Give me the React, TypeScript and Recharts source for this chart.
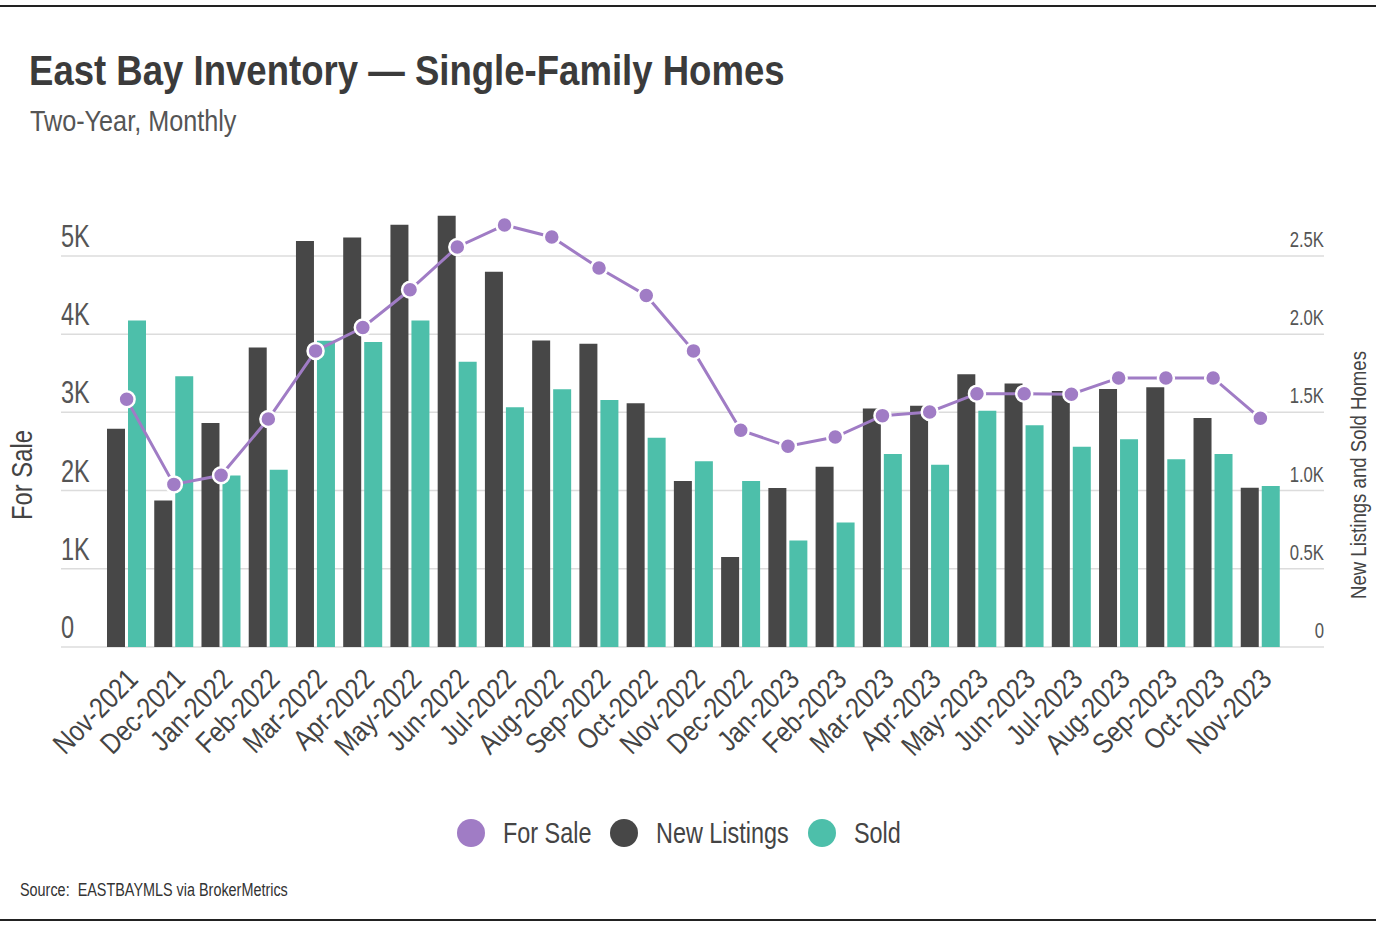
import { ComposedChart, Bar, Line, XAxis, YAxis, CartesianGrid, Legend } from 'recharts';

const months = [
  'Nov-2021', 'Dec-2021', 'Jan-2022', 'Feb-2022', 'Mar-2022', 'Apr-2022', 'May-2022', 'Jun-2022',
  'Jul-2022', 'Aug-2022', 'Sep-2022', 'Oct-2022', 'Nov-2022', 'Dec-2022', 'Jan-2023', 'Feb-2023',
  'Mar-2023', 'Apr-2023', 'May-2023', 'Jun-2023', 'Jul-2023', 'Aug-2023', 'Sep-2023', 'Oct-2023',
  'Nov-2023',
];

const forSale = [
  3168, 2079, 2195, 2915, 3786, 4085, 4567, 5114, 5395, 5242, 4845, 4494, 3786,
  2771, 2566, 2685, 2958, 3005, 3239, 3239, 3232, 3440, 3440, 3440, 2924,
];

const newListings = [
  1395, 937, 1432, 1914, 2595, 2618, 2700, 2757, 2399, 1959, 1938, 1558, 1061,
  576, 1016, 1152, 1524, 1543, 1744, 1684, 1637, 1650, 1661, 1464, 1018,
];

const sold = [
  2087, 1731, 1097, 1133, 1957, 1949, 2087, 1823, 1533, 1648, 1579, 1338, 1187,
  1061, 681, 796, 1234, 1165, 1511, 1417, 1280, 1328, 1200, 1234, 1029,
];

const leftTicks = [0, 1000, 2000, 3000, 4000, 5000];
const rightTicks = [0, 500, 1000, 1500, 2000, 2500];

const legendItems = [
  { name: 'For Sale', color: '#a07cc5' },
  { name: 'New Listings', color: '#474747' },
  { name: 'Sold', color: '#4dbfaa' },
];

const data = months.map((month, i) => ({
  month,
  forSale: forSale[i],
  newListings: newListings[i],
  sold: sold[i],
}));

// no narrow font installed, so squeeze Liberation Sans horizontally
const FONT = "'Liberation Sans', Arial, sans-serif";

let canvas: HTMLCanvasElement | null = null;
function measure(text: string, size: number, weight = 'normal') {
  if (!canvas) canvas = document.createElement('canvas');
  const ctx = canvas.getContext('2d')!;
  ctx.font = `${weight} ${size}px ${FONT}`;
  return ctx.measureText(text).width;
}

const fmtLeft = (v: number) => (v === 0 ? '0' : `${v / 1000}K`);
const fmtRight = (v: number) => (v === 0 ? '0' : `${(v / 1000).toFixed(1)}K`);

function LeftTick({ x, y, payload }: any) {
  return (
    <g transform={`translate(${x},${y - 9}) scale(0.76,1)`}>
      <text textAnchor="start" fontSize={31} fill="#555">
        {fmtLeft(payload.value)}
      </text>
    </g>
  );
}

function RightTick({ x, y, payload }: any) {
  return (
    <g transform={`translate(${x},${y - 9}) scale(0.76,1)`}>
      <text textAnchor="end" fontSize={22} fill="#555">
        {fmtRight(payload.value)}
      </text>
    </g>
  );
}

function MonthTick({ x, y, payload }: any) {
  return (
    <g transform={`translate(${x + 13},${y + 34}) rotate(-45) scale(0.84,1)`}>
      <text textAnchor="end" fontSize={29} fill="#444">
        {payload.value}
      </text>
    </g>
  );
}

function Squeezed({ text, size, color, scale }: { text: string; size: number; color: string; scale: number }) {
  const w = measure(text, size);
  return (
    <span style={{ display: 'inline-block', width: w * scale, height: size * 1.2, position: 'relative' }}>
      <span
        style={{
          position: 'absolute',
          left: 0,
          top: 0,
          fontSize: size,
          lineHeight: `${size * 1.2}px`,
          color,
          whiteSpace: 'nowrap',
          transform: `scaleX(${scale})`,
          transformOrigin: 'left center',
        }}
      >
        {text}
      </span>
    </span>
  );
}

function LegendBox() {
  return (
    <div style={{ display: 'flex', justifyContent: 'center', alignItems: 'center' }}>
      {legendItems.map((item, i) => (
        <div
          key={item.name}
          style={{ display: 'flex', alignItems: 'center', marginRight: i < legendItems.length - 1 ? 19 : 0 }}
        >
          <span
            style={{
              width: 28,
              height: 28,
              borderRadius: 14,
              background: item.color,
              display: 'inline-block',
              marginRight: 18,
            }}
          />
          <Squeezed text={item.name} size={30} color="#444" scale={0.78} />
        </div>
      ))}
    </div>
  );
}

const squeezeStyle = (scale: number) => ({
  position: 'absolute' as const,
  whiteSpace: 'nowrap' as const,
  transform: `scaleX(${scale})`,
  transformOrigin: 'left top',
});

export default function App() {
  return (
    <div
      style={{
        position: 'absolute',
        left: 0,
        top: 0,
        width: 1390,
        height: 934,
        background: '#fff',
        fontFamily: FONT,
        overflow: 'hidden',
      }}
    >
      <div style={{ position: 'absolute', left: 0, top: 5, width: 1376, height: 2, background: '#222' }} />
      <div style={{ ...squeezeStyle(0.85), left: 29, top: 46, fontSize: 43, fontWeight: 'bold', color: '#3b3b3b' }}>
        East Bay Inventory — Single-Family Homes
      </div>
      <div style={{ ...squeezeStyle(0.84), left: 30, top: 104, fontSize: 30, color: '#555' }}>
        Two-Year, Monthly
      </div>

      <ComposedChart
        width={1390}
        height={934}
        data={data}
        margin={{ top: 209, right: 65, bottom: 167, left: 60 }}
        barGap={3}
        barSize={18}
      >
        <CartesianGrid yAxisId="left" vertical={false} stroke="#dcdcdc" strokeWidth={1.5} syncWithTicks />
        <XAxis
          dataKey="month"
          interval={0}
          height={120}
          tickLine={false}
          axisLine={false}
          tickSize={0}
          tickMargin={0}
          padding={{ left: 42, right: 40 }}
          tick={<MonthTick />}
        />
        <YAxis
          yAxisId="left"
          orientation="left"
          width={1}
          domain={[0, 5600]}
          ticks={leftTicks}
          tickLine={false}
          axisLine={false}
          tickSize={0}
          tickMargin={0}
          tick={<LeftTick />}
        />
        <YAxis
          yAxisId="right"
          orientation="right"
          width={1}
          domain={[0, 2800]}
          ticks={rightTicks}
          tickLine={false}
          axisLine={false}
          tickSize={0}
          tickMargin={0}
          tick={<RightTick />}
        />
        <Bar yAxisId="right" dataKey="newListings" name="New Listings" fill="#474747" isAnimationActive={false} />
        <Bar yAxisId="right" dataKey="sold" name="Sold" fill="#4dbfaa" isAnimationActive={false} />
        <Line
          yAxisId="left"
          type="linear"
          dataKey="forSale"
          name="For Sale"
          stroke="#a07cc5"
          strokeWidth={3}
          dot={{ r: 8, fill: '#a07cc5', stroke: '#fff', strokeWidth: 2.5 }}
          activeDot={false}
          isAnimationActive={false}
        />
        <Legend
          layout="horizontal"
          verticalAlign="middle"
          align="center"
          content={<LegendBox />}
          wrapperStyle={{ top: 815, left: 0, width: 1358 }}
        />
      </ComposedChart>

      <div
        style={{
          position: 'absolute',
          left: 22,
          top: 475,
          transform: 'translate(-50%, -50%) rotate(-90deg) scaleX(0.82)',
          fontSize: 29,
          color: '#444',
          whiteSpace: 'nowrap',
        }}
      >
        For Sale
      </div>
      <div
        style={{
          position: 'absolute',
          left: 1359,
          top: 475,
          transform: 'translate(-50%, -50%) rotate(-90deg) scaleX(0.845)',
          fontSize: 22,
          color: '#444',
          whiteSpace: 'nowrap',
        }}
      >
        New Listings and Sold Homes
      </div>
      <div style={{ ...squeezeStyle(0.8), left: 20, top: 880, fontSize: 18, color: '#333' }}>
        Source:&nbsp; EASTBAYMLS via BrokerMetrics
      </div>
      <div style={{ position: 'absolute', left: 0, top: 919, width: 1376, height: 2, background: '#222' }} />
    </div>
  );
}
